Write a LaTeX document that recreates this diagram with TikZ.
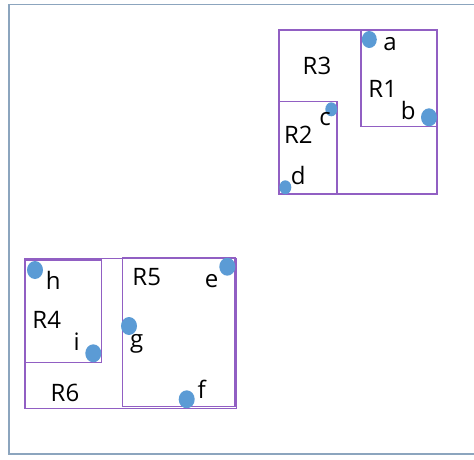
\documentclass[tikz,border=0pt]{standalone}
\usepackage{fontspec}
\setmainfont{Open Sans}
\usepackage{tikz}
\usetikzlibrary{positioning}
\definecolor{framegrey}{RGB}{140,165,190}
\definecolor{regionpurple}{RGB}{145,95,195}
\definecolor{pointblue}{RGB}{91,155,213}

\tikzset{
  region/.style={draw=regionpurple, line width=1.3pt},
  pt/.style={fill=pointblue},
  lbl/.style={font=\fontsize{24}{28}\selectfont, inner sep=0pt}
}

\begin{document}
\begin{tikzpicture}[x=1pt, y=-1pt]
  \useasboundingbox (0,0) rectangle (474,459);
  \draw[framegrey, line width=1.3pt] (475,4.5) -- (9,4.5) -- (9,454) -- (475,454);
  % upper group
  \begin{scope}
    \draw[region] (279,30) rectangle (437,194);
    \draw[region] (361,30) rectangle (437,126.5);
    \draw[region] (279,101.5) rectangle (337,194);
    \foreach \p/\r in {(369.3,39.5)/7.5, (429,117.3)/8, (331.3,109.3)/6, (285.3,187.3)/6}
      \fill[pt] \p ellipse ({\r} and {\r+1});
    \node[lbl] (R3) at (317,66) {R3};
    \node[lbl] (R1) at (382.7,89) {R1};
    \node[lbl] (R2) at (298.3,135) {R2};
    \node[lbl] (a) at (390,44) {a};
    \node[lbl] (b) at (408.3,110.5) {b};
    \node[lbl] (c) at (325,119) {c};
    \node[lbl] (d) at (298.3,175.5) {d};
  \end{scope}
  % lower group
  \begin{scope}
    \draw[region] (25,258.3) rectangle (236.7,408.3);
    \draw[region] (25,260) rectangle (101.7,362.7);
    \draw[region] (122.7,257.3) rectangle (235,406.7);
    \foreach \p in {(35,270), (227.3,266.7), (129,326), (93.3,353.3), (186.7,399.3)}
      \fill[pt] \p ellipse (8 and 9);
    \node[lbl] (R4) at (46.7,319.5) {R4};
    \node[lbl] (R5) at (146.7,277.5) {R5};
    \node[lbl] (R6) at (65,393) {R6};
    \node[lbl] (h) at (53.3,280.5) {h};
    \node[lbl] (e) at (211.7,281.5) {e};
    \node[lbl] (i) at (76.7,342) {i};
    \node[lbl] (g) at (136.7,344) {g};
    \node[lbl] (f) at (201.7,389) {f};
  \end{scope}
\end{tikzpicture}
\end{document}
